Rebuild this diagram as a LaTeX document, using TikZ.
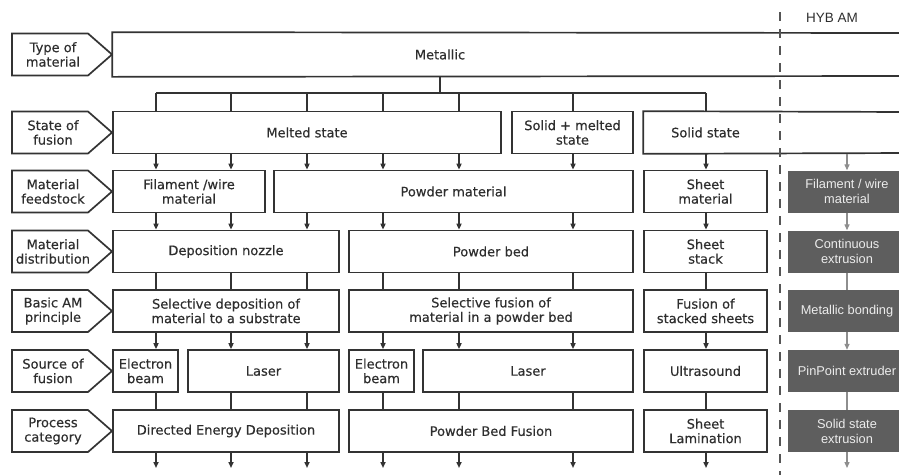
\documentclass[tikz,border=0pt]{standalone}
\usepackage{fontspec}
\newfontfamily\mainf[FakeBold=0.3]{DejaVu Sans}
\newfontfamily\grayf{Liberation Sans}
\usetikzlibrary{arrows.meta}
\definecolor{linec}{HTML}{333333}
\definecolor{txtc}{HTML}{2E2E2E}
\definecolor{gfill}{HTML}{5E5E5E}
\definecolor{gtext}{HTML}{ECECEC}
\definecolor{garrow}{HTML}{8E8E8E}
\definecolor{dashc}{HTML}{555555}
\tikzset{
  box/.style={draw=linec, line width=1.7pt, fill=white, inner sep=0pt, minimum height=42,
    align=center, text=txtc, font=\mainf\fontsize{13}{14.5}\selectfont},
  opbox/.style={box, draw=none},
  outline/.style={draw=linec, line width=1.7pt},
  lbltext/.style={align=center, inner sep=0pt, text=txtc, font=\mainf\fontsize{13}{14.5}\selectfont},
  gbox/.style={fill=gfill, draw=none, inner sep=0pt, minimum height=42, minimum width=118,
    align=center, text=gtext, font=\grayf\fontsize{12.8}{15}\selectfont},
  ln/.style={draw=linec, line width=1.6pt},
  arr/.style={ln, -{Triangle[length=6pt,width=5pt]}},
  gln/.style={draw=garrow, line width=1.3pt},
  garr/.style={gln, -{Triangle[length=6pt,width=5pt]}},
  sep/.style={draw=dashc, line width=2.4pt, dash pattern=on 9pt off 8pt},
}
\newcommand\bx[6][]{\node[box,#1,minimum width={#4-#3}] (#2) at ({(#3+#4)/2},#5) {#6};}
\newcommand\lab[3]{%
  \draw[outline] (12,{#2-21}) -- (88,{#2-21}) -- (112,#2) -- (88,{#2+21}) -- (12,{#2+21}) -- cycle;
  \node[lbltext] (#1) at (53,#2) {#3};}
\begin{document}
\begin{tikzpicture}[x=1pt,y=-1pt]
\clip (0,0) rectangle (899,475);
\fill[white] (0,0) rectangle (899,475);

% column coordinates
\coordinate (c1) at (156,0);
\coordinate (c2) at (231,0);
\coordinate (c3) at (307,0);
\coordinate (c4) at (383,0);
\coordinate (c5) at (459,0);
\coordinate (c6) at (573,0);
\coordinate (c7) at (706,0);
\coordinate (c8) at (847,0);
\coordinate (bus) at (440,93);
\coordinate (bot) at (0,468);

% row labels
\lab{l1}{54.5}{Type of\\material}
\lab{l2}{132.5}{State of\\fusion}
\lab{l3}{191.5}{Material\\feedstock}
\lab{l4}{251.5}{Material\\distribution}
\lab{l5}{311}{Basic AM\\principle}
\lab{l6}{371}{Source of\\fusion}
\lab{l7}{431}{Process\\category}

% row 1
\bx[opbox,minimum height=43]{metallic}{113}{767}{54.5}{Metallic}
\draw[outline] (910,33) -- (metallic.north west) -- (metallic.south west) -- (910,76);

% row 2
\bx{melted}{113}{501}{132.5}{Melted state}
\bx{sm}{512}{633}{132.5}{Solid + melted\\state}
\bx[opbox,minimum height=41]{solid}{644}{767}{132.5}{Solid state}
\draw[outline] (910,112) -- (solid.north west) -- (solid.south west) -- (910,153);

% row 3
\bx{fil}{113}{265}{191.5}{Filament /wire\\material}
\bx{powm}{274}{633}{191.5}{Powder material}
\bx{sheetm}{644}{767}{191.5}{Sheet\\material}

% row 4
\bx{dn}{113}{339}{251.5}{Deposition nozzle}
\bx{pb}{349}{633}{251.5}{Powder bed}
\bx{ss}{644}{767}{251.5}{Sheet\\stack}

% row 5
\bx{sd}{113}{339}{311}{Selective deposition of\\material to a substrate}
\bx{sf}{349}{633}{311}{Selective fusion of\\material in a powder bed}
\bx{fs}{644}{767}{311}{Fusion of\\stacked sheets}

% row 6
\bx{eba}{113}{178}{371}{Electron\\beam}
\bx{lasa}{188}{339}{371}{Laser}
\bx{ebb}{349}{414}{371}{Electron\\beam}
\bx{lasb}{423}{633}{371}{Laser}
\bx{us}{644}{767}{371}{Ultrasound}

% row 7
\bx{ded}{113}{339}{431}{Directed Energy Deposition}
\bx{pbf}{349}{633}{431}{Powder Bed Fusion}
\bx{sl}{644}{767}{431}{Sheet\\Lamination}

% HYB AM column
\node[text=txtc, font=\grayf\fontsize{13.5}{15}\selectfont, inner sep=0pt] (hyb) at (832,18) {HYB AM};
\node[gbox] (g1) at (847,191.5) {Filament / wire\\material};
\node[gbox] (g2) at (847,251.5) {Continuous\\extrusion};
\node[gbox] (g3) at (847,311) {Metallic bonding};
\node[gbox] (g4) at (847,371) {PinPoint extruder};
\node[gbox] (g5) at (847,431) {Solid state\\extrusion};

% row 1 -> row 2
\draw[ln] (metallic.south) -- (bus);
\draw[ln] (c1 |- bus) -- (c7 |- bus);
\foreach \c in {c1,c2,c3,c4,c5} \draw[ln] (\c |- bus) -- (\c |- melted.north);
\draw[ln] (c6 |- bus) -- (c6 |- sm.north);
\draw[ln] (c7 |- bus) -- (c7 |- solid.north);

% row 2 -> row 3
\foreach \c in {c1,c2} \draw[arr] (\c |- melted.south) -- (\c |- fil.north);
\foreach \c in {c3,c4,c5} \draw[arr] (\c |- melted.south) -- (\c |- powm.north);
\draw[arr] (c6 |- sm.south) -- (c6 |- powm.north);
\draw[arr] (c7 |- solid.south) -- (c7 |- sheetm.north);
\draw[garr] (c8 |- solid.south) -- (g1.north);

% row 3 -> row 4
\foreach \c in {c1,c2} \draw[arr] (\c |- fil.south) -- (\c |- dn.north);
\draw[arr] (c3 |- powm.south) -- (c3 |- dn.north);
\foreach \c in {c4,c5,c6} \draw[arr] (\c |- powm.south) -- (\c |- pb.north);
\draw[arr] (c7 |- sheetm.south) -- (c7 |- ss.north);
\draw[garr] (g1.south) -- (g2.north);

% row 4 -> row 5
\foreach \c in {c1,c2,c3} \draw[ln] (\c |- dn.south) -- (\c |- sd.north);
\foreach \c in {c4,c5,c6} \draw[ln] (\c |- pb.south) -- (\c |- sf.north);
\draw[ln] (c7 |- ss.south) -- (c7 |- fs.north);
\draw[gln] (g2.south) -- (g3.north);

% row 5 -> row 6
\draw[arr] (c1 |- sd.south) -- (c1 |- eba.north);
\foreach \c in {c2,c3} \draw[arr] (\c |- sd.south) -- (\c |- lasa.north);
\draw[arr] (c4 |- sf.south) -- (c4 |- ebb.north);
\foreach \c in {c5,c6} \draw[arr] (\c |- sf.south) -- (\c |- lasb.north);
\draw[arr] (c7 |- fs.south) -- (c7 |- us.north);
\draw[garr] (g3.south) -- (g4.north);

% row 6 -> row 7
\draw[ln] (c1 |- eba.south) -- (c1 |- ded.north);
\foreach \c in {c2,c3} \draw[ln] (\c |- lasa.south) -- (\c |- ded.north);
\draw[ln] (c4 |- ebb.south) -- (c4 |- pbf.north);
\foreach \c in {c5,c6} \draw[ln] (\c |- lasb.south) -- (\c |- pbf.north);
\draw[ln] (c7 |- us.south) -- (c7 |- sl.north);
\draw[gln] (g4.south) -- (g5.north);

% below row 7
\foreach \c in {c1,c2,c3} \draw[arr] (\c |- ded.south) -- (\c |- bot);
\foreach \c in {c4,c5,c6} \draw[arr] (\c |- pbf.south) -- (\c |- bot);
\draw[arr] (c7 |- sl.south) -- (c7 |- bot);
\draw[garr] (g5.south) -- (c8 |- bot);

% separator
\draw[sep] (780,12) -- (780,475);
\end{tikzpicture}
\end{document}
